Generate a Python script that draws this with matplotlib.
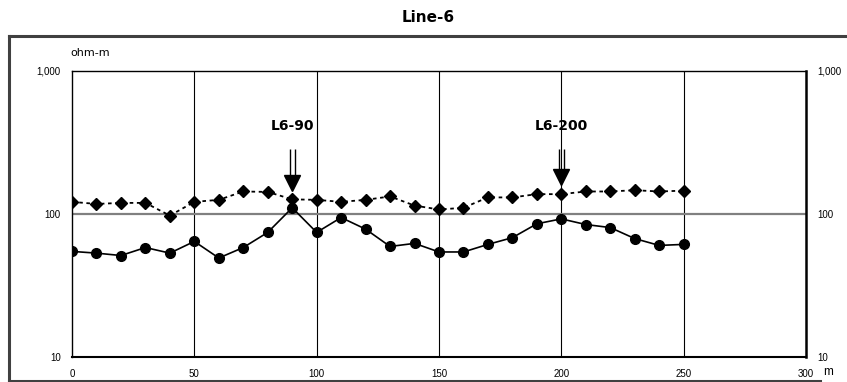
import matplotlib
matplotlib.use("Agg")
import matplotlib.pyplot as plt
from matplotlib.lines import Line2D
from matplotlib.ticker import NullLocator

# distance along line (m)
distance = [0, 10, 20, 30, 40, 50, 60, 70, 80, 90, 100, 110, 120, 130, 140,
            150, 160, 170, 180, 190, 200, 210, 220, 230, 240, 250]

# apparent resistivity (ohm-m), two series
rho_upper = [121, 117, 119, 119, 97, 121, 125, 143, 142, 126, 125, 121, 125, 132, 114,
             107, 110, 130, 130, 137, 137, 143, 143, 146, 143, 145]
rho_lower = [54.5, 53, 51, 58, 53, 64, 49, 58, 74, 110, 74, 94, 78, 59, 62,
             54, 54, 61, 68, 85, 92, 84, 80, 67, 60, 61]

marker_x = [90, 200]
marker_labels = ["L6-90", "L6-200"]

x_ticks = [0, 50, 100, 150, 200, 250, 300]
y_ticks = [10, 100, 1000]
y_ticklabels = ["10", "100", "1,000"]

W, H = 847, 382
fig = plt.figure(figsize=(W / 100, H / 100), dpi=100)
ax = fig.add_axes([72 / W, 1 - 356.7 / H, (806 - 72) / W, (356.7 - 70.7) / H])

ax.set_yscale("log")
ax.set_xlim(0, 300)
ax.set_ylim(10, 1000)

# grid: vertical lines every 50 m, horizontal line at 100
for xv in x_ticks[1:-1]:
    ax.axvline(xv, color="black", lw=0.8, zorder=1)
ax.axhline(100, color="#808080", lw=1.6, zorder=1)

ax.plot(distance, rho_upper, color="black", lw=1.3, ls=(0, (2, 2)),
        marker="D", markersize=6, zorder=3)
ax.plot(distance, rho_lower, color="black", lw=1.2, ls="-",
        marker="o", markersize=7, zorder=3)

# double-shaft arrows pointing at the stations, labels on a common level
label_y = 410
shaft_top = 285
for xv, label in zip(marker_x, marker_labels):
    idx = distance.index(xv)
    tip = rho_upper[idx] * 1.15
    head_top = tip * 1.29
    for dx in (-0.95, 0.95):
        ax.plot([xv + dx, xv + dx], [head_top, shaft_top], color="black", lw=1.0,
                solid_capstyle="butt", zorder=4)
    ax.plot([xv], [tip * 1.137], marker="v", color="black", markersize=11, zorder=4)
    ax.text(xv, label_y, label, ha="center", va="center",
            fontsize=10, fontweight="bold", family="DejaVu Sans", zorder=5)

ax.set_xticks(x_ticks)
ax.set_xticklabels([str(v) for v in x_ticks], fontsize=7, family="Liberation Sans")
ax.set_yticks(y_ticks)
ax.set_yticklabels(y_ticklabels, fontsize=7, family="Liberation Sans")
ax.yaxis.set_minor_locator(NullLocator())
ax.tick_params(axis="both", length=0)
ax.tick_params(axis="x", pad=8.5)
ax.tick_params(axis="y", pad=8, right=True, labelright=True)

for side in ["left", "top"]:
    ax.spines[side].set_linewidth(1.0)
ax.spines["bottom"].set_linewidth(1.5)
ax.spines["right"].set_linewidth(1.8)

fig.text(428 / W, 1 - 18 / H, "Line-6", ha="center", va="center",
         fontsize=11, fontweight="bold", family="DejaVu Sans")
fig.text(70 / W, 1 - 52.5 / H, "ohm-m", ha="left", va="center",
         fontsize=8, family="DejaVu Sans")
fig.text(823 / W, 1 - 372 / H, "m", ha="left", va="center",
         fontsize=8.5, family="Liberation Sans")

# outer frame
frame = dict(color="#404040", lw=2.2, transform=fig.transFigure)
fig.add_artist(Line2D([9 / W, 1.0], [1 - 35.7 / H, 1 - 35.7 / H], **frame))
fig.add_artist(Line2D([9 / W, 9 / W], [1 - 35.7 / H, 1 - 380.5 / H], **frame))
fig.add_artist(Line2D([9 / W, 820 / W], [1 - 380.5 / H, 1 - 380.5 / H], **frame))

fig.savefig("out.png", dpi=100)
